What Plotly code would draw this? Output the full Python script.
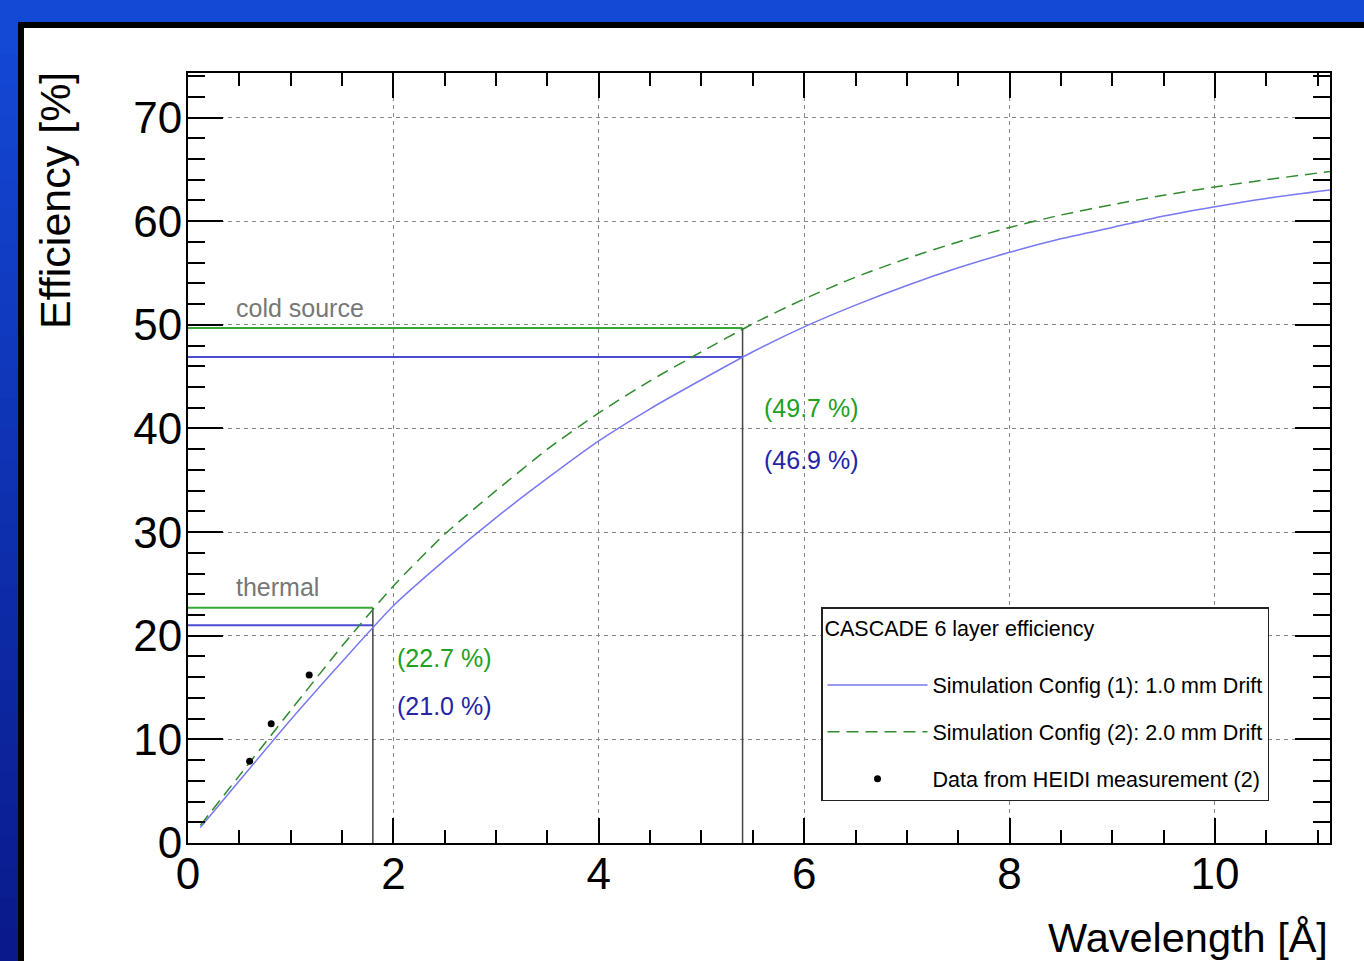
import plotly.graph_objects as go

# ---------------- data ----------------
wl = [0.12, 0.5, 1.0, 1.5, 2.0, 2.5, 3.0, 3.5, 4.0, 4.5, 5.0, 5.5, 6.0, 6.5, 7.0, 7.5, 8.0, 8.5, 9.0, 9.5, 10.0, 10.5, 11.12]
eff_cfg1 = [1.5, 6.0, 11.9, 17.5, 22.9, 27.3, 31.4, 35.2, 38.8, 41.9, 44.7, 47.4, 49.8, 51.9, 53.8, 55.5, 57.0, 58.3, 59.4, 60.5, 61.4, 62.2, 63.0]
eff_cfg2 = [1.7, 6.5, 12.8, 19.0, 24.8, 29.8, 34.0, 38.0, 41.5, 44.6, 47.4, 50.1, 52.5, 54.6, 56.4, 58.0, 59.4, 60.6, 61.6, 62.5, 63.3, 64.0, 64.8]

heidi_wl = [0.60, 0.81, 1.18]
heidi_eff = [7.9, 11.5, 16.2]

thermal_wl = 1.8
thermal_eff = [22.7, 21.0]   # config 2, config 1
cold_wl = 5.4
cold_eff = [49.7, 46.9]

x_range = [0, 11.12]
y_range = [0, 74.3]

W, H = 1364, 961
ML, MR, MT, MB = 188, 34, 73, 118
PW, PH = W - ML - MR, H - MT - MB

def px(x):
    return (x - ML) / PW

def py(y):
    return (H - MB - y) / PH

GREEN_LINE = "#2e8b2e"
GREEN_REF = "#36a836"
GREEN_TXT = "#22a022"
BLUE_LINE = "#7878f2"
BLUE_REF = "#4c4cd0"
BLUE_TXT = "#2424a8"
FONT = "Liberation Sans"

fig = go.Figure()

# reference lines (thermal / cold source)
for wlv, effs in [(thermal_wl, thermal_eff), (cold_wl, cold_eff)]:
    fig.add_trace(go.Scatter(x=[0, wlv], y=[effs[0], effs[0]], mode="lines",
                             line=dict(color=GREEN_REF, width=2), showlegend=False, hoverinfo="skip"))
    fig.add_trace(go.Scatter(x=[0, wlv], y=[effs[1], effs[1]], mode="lines",
                             line=dict(color=BLUE_REF, width=2), showlegend=False, hoverinfo="skip"))
    fig.add_trace(go.Scatter(x=[wlv, wlv], y=[0, effs[0]], mode="lines",
                             line=dict(color="#444444", width=1.5), showlegend=False, hoverinfo="skip"))

fig.add_trace(go.Scatter(x=wl, y=eff_cfg1, mode="lines", line_shape="spline",
                         line=dict(color=BLUE_LINE, width=1.5, smoothing=0.6),
                         name="Simulation Config (1): 1.0 mm Drift", legendgroup="a"))
fig.add_trace(go.Scatter(x=wl, y=eff_cfg2, mode="lines", line_shape="spline",
                         line=dict(color=GREEN_LINE, width=1.5, dash="12px,7px", smoothing=0.6),
                         name="Simulation Config (2): 2.0 mm Drift", legendgroup="b"))
fig.add_trace(go.Scatter(x=heidi_wl, y=heidi_eff, mode="markers",
                         marker=dict(color="black", size=7),
                         name="Data from HEIDI measurement (2)", legendgroup="c"))

# text annotations
ann = [
    dict(x=0.45, y=51.6, text="cold source", font=dict(color="#777777", size=25)),
    dict(x=0.45, y=24.7, text="thermal", font=dict(color="#777777", size=25)),
    dict(x=5.59, y=42.0, text="(49.7 %)", font=dict(color=GREEN_TXT, size=25)),
    dict(x=5.59, y=37.0, text="(46.9 %)", font=dict(color=BLUE_TXT, size=25)),
    dict(x=2.02, y=17.9, text="(22.7 %)", font=dict(color=GREEN_TXT, size=25)),
    dict(x=2.02, y=13.2, text="(21.0 %)", font=dict(color=BLUE_TXT, size=25)),
]
for a in ann:
    fig.add_annotation(x=a["x"], y=a["y"], xref="x", yref="y", text=a["text"],
                       showarrow=False, xanchor="left", yanchor="middle",
                       font=dict(family=FONT, **a["font"]))

# axis titles
fig.add_annotation(x=px(55), y=py(201), xref="paper", yref="paper", text="Efficiency [%]",
                   textangle=-90, showarrow=False, xanchor="center", yanchor="middle",
                   font=dict(family=FONT, size=43, color="black"))
fig.add_annotation(x=1.0, y=py(937), xref="paper", yref="paper", text="Wavelength [Å]",
                   showarrow=False, xanchor="right", yanchor="middle",
                   font=dict(family=FONT, size=41.5, color="black"))

# background frame shapes
shapes = []
shapes.append(dict(type="rect", xref="paper", yref="paper", x0=px(0), x1=px(W), y0=py(0), y1=py(23),
                   fillcolor="#1449d6", line_width=0, layer="below"))
n = 30
top_c = (20, 73, 214)
bot_c = (10, 26, 140)
for i in range(n):
    t = i / (n - 1)
    c = tuple(int(top_c[k] + (bot_c[k] - top_c[k]) * t) for k in range(3))
    y0 = 23 + (H - 23) * i / n
    y1 = 23 + (H - 23) * (i + 1) / n + 1
    shapes.append(dict(type="rect", xref="paper", yref="paper", x0=px(0), x1=px(19),
                       y0=py(y0), y1=py(y1), fillcolor="rgb(%d,%d,%d)" % c, line_width=0, layer="below"))
shapes.append(dict(type="rect", xref="paper", yref="paper", x0=px(18), x1=px(W), y0=py(22), y1=py(28),
                   fillcolor="black", line_width=0, layer="below"))
shapes.append(dict(type="rect", xref="paper", yref="paper", x0=px(18), x1=px(24), y0=py(22), y1=py(H),
                   fillcolor="black", line_width=0, layer="below"))

axis_common = dict(
    showline=True, linecolor="black", linewidth=2, mirror="allticks",
    ticks="inside", tickcolor="black", tickwidth=1.5,
    showgrid=True, gridcolor="#8a8a8a", gridwidth=1, griddash="4px,4px",
    zeroline=False, tickfont=dict(family=FONT, size=44, color="black"),
)

fig.update_layout(
    width=W, height=H,
    margin=dict(l=ML, r=MR, t=MT, b=MB),
    paper_bgcolor="white", plot_bgcolor="white",
    shapes=shapes,
    xaxis=dict(range=x_range, dtick=2, tick0=0, ticklen=25, ticklabelstandoff=-9,
               minor=dict(dtick=0.5, ticks="inside", ticklen=13, tickcolor="black", tickwidth=1.5, showgrid=False),
               **axis_common),
    yaxis=dict(range=y_range, dtick=10, tick0=0, ticklen=35, ticklabelstandoff=-5,
               minor=dict(dtick=2, ticks="inside", ticklen=17, tickcolor="black", tickwidth=1.5, showgrid=False),
               **axis_common),
    legend=dict(
        title=dict(text="CASCADE 6 layer efficiency<br> ", font=dict(family=FONT, size=21.5, color="black")),
        font=dict(family=FONT, size=21.5, color="black"),
        x=px(821), y=py(607), xanchor="left", yanchor="top",
        bgcolor="white", bordercolor="#222222", borderwidth=1.5,
        tracegroupgap=16, itemwidth=100,
    ),
    showlegend=True,
)

fig.write_html("out.html", config={"displayModeBar": False},
               post_script="document.body.style.margin='0px';document.body.style.padding='0px';")
